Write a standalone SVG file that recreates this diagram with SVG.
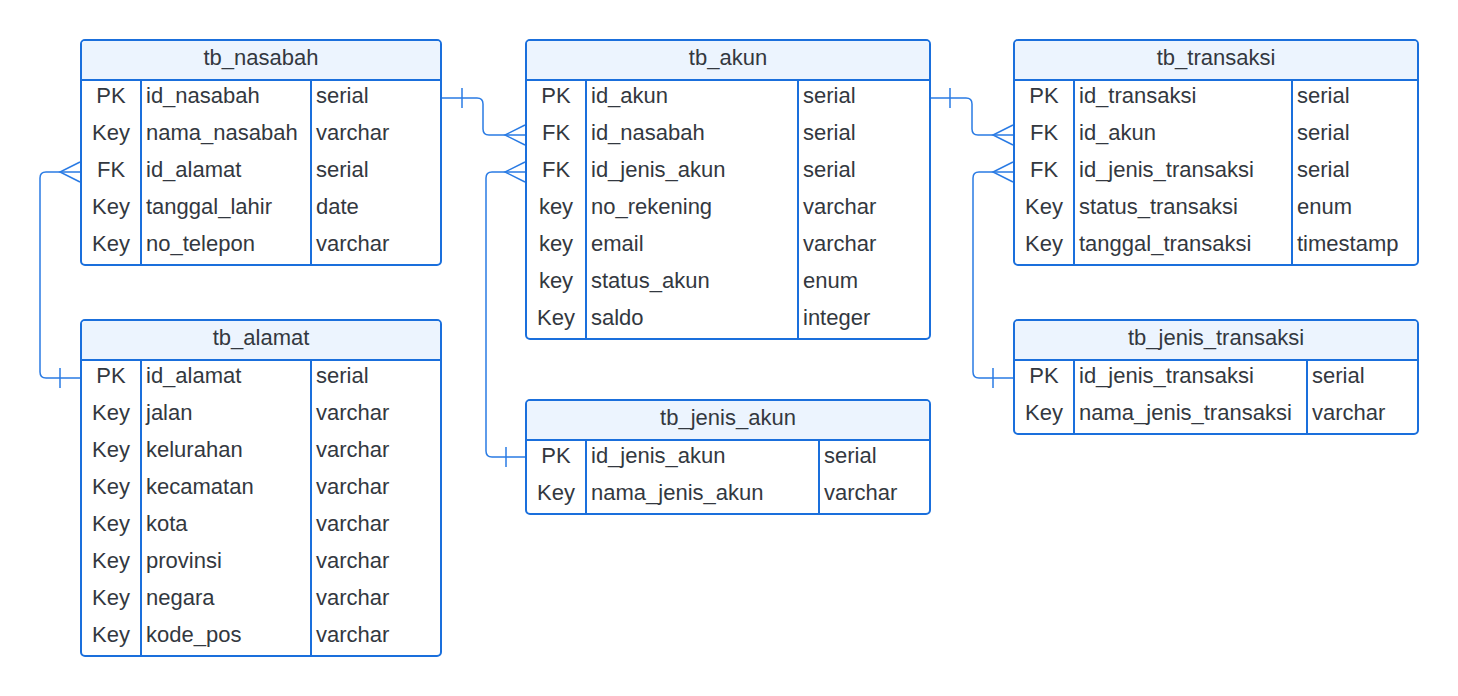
<svg xmlns="http://www.w3.org/2000/svg" width="1458" height="696" viewBox="0 0 1458 696">
<style>
.box{fill:#ffffff;stroke:#1a6fdc;stroke-width:2}
.hd{fill:#ecf4fe}
.ln{stroke:#1a6fdc;stroke-width:2;fill:none}
.t{font-family:"Liberation Sans",Arial,sans-serif;font-size:22px;fill:#333840}
.c{text-anchor:middle}
.con path{fill:none;stroke:#2a7be4;stroke-width:1.5}
</style>
<rect width="1458" height="696" fill="#ffffff"/>

<g id="tb_nasabah">
<rect class="box" x="81" y="40" width="360" height="225" rx="4"/>
<path class="hd" d="M82,79 V44 Q82,41 85,41 H437 Q440,41 440,44 V79 Z"/>
<line class="ln" x1="81" y1="80" x2="441" y2="80"/>
<line class="ln" x1="141" y1="80" x2="141" y2="265"/>
<line class="ln" x1="311" y1="80" x2="311" y2="265"/>
<text class="t c" x="261" y="65">tb_nasabah</text>
<text class="t c" x="111" y="103">PK</text><text class="t" x="146" y="103">id_nasabah</text><text class="t" x="316" y="103">serial</text>
<text class="t c" x="111" y="140">Key</text><text class="t" x="146" y="140">nama_nasabah</text><text class="t" x="316" y="140">varchar</text>
<text class="t c" x="111" y="177">FK</text><text class="t" x="146" y="177">id_alamat</text><text class="t" x="316" y="177">serial</text>
<text class="t c" x="111" y="214">Key</text><text class="t" x="146" y="214">tanggal_lahir</text><text class="t" x="316" y="214">date</text>
<text class="t c" x="111" y="251">Key</text><text class="t" x="146" y="251">no_telepon</text><text class="t" x="316" y="251">varchar</text>
</g>

<g id="tb_alamat">
<rect class="box" x="81" y="320" width="360" height="336" rx="4"/>
<path class="hd" d="M82,359 V324 Q82,321 85,321 H437 Q440,321 440,324 V359 Z"/>
<line class="ln" x1="81" y1="360" x2="441" y2="360"/>
<line class="ln" x1="141" y1="360" x2="141" y2="656"/>
<line class="ln" x1="311" y1="360" x2="311" y2="656"/>
<text class="t c" x="261" y="345">tb_alamat</text>
<text class="t c" x="111" y="383">PK</text><text class="t" x="146" y="383">id_alamat</text><text class="t" x="316" y="383">serial</text>
<text class="t c" x="111" y="420">Key</text><text class="t" x="146" y="420">jalan</text><text class="t" x="316" y="420">varchar</text>
<text class="t c" x="111" y="457">Key</text><text class="t" x="146" y="457">kelurahan</text><text class="t" x="316" y="457">varchar</text>
<text class="t c" x="111" y="494">Key</text><text class="t" x="146" y="494">kecamatan</text><text class="t" x="316" y="494">varchar</text>
<text class="t c" x="111" y="531">Key</text><text class="t" x="146" y="531">kota</text><text class="t" x="316" y="531">varchar</text>
<text class="t c" x="111" y="568">Key</text><text class="t" x="146" y="568">provinsi</text><text class="t" x="316" y="568">varchar</text>
<text class="t c" x="111" y="605">Key</text><text class="t" x="146" y="605">negara</text><text class="t" x="316" y="605">varchar</text>
<text class="t c" x="111" y="642">Key</text><text class="t" x="146" y="642">kode_pos</text><text class="t" x="316" y="642">varchar</text>
</g>

<g id="tb_akun">
<rect class="box" x="526" y="40" width="404" height="299" rx="4"/>
<path class="hd" d="M527,79 V44 Q527,41 530,41 H926 Q929,41 929,44 V79 Z"/>
<line class="ln" x1="526" y1="80" x2="930" y2="80"/>
<line class="ln" x1="586" y1="80" x2="586" y2="339"/>
<line class="ln" x1="798" y1="80" x2="798" y2="339"/>
<text class="t c" x="728" y="65">tb_akun</text>
<text class="t c" x="556" y="103">PK</text><text class="t" x="591" y="103">id_akun</text><text class="t" x="803" y="103">serial</text>
<text class="t c" x="556" y="140">FK</text><text class="t" x="591" y="140">id_nasabah</text><text class="t" x="803" y="140">serial</text>
<text class="t c" x="556" y="177">FK</text><text class="t" x="591" y="177">id_jenis_akun</text><text class="t" x="803" y="177">serial</text>
<text class="t c" x="556" y="214">key</text><text class="t" x="591" y="214">no_rekening</text><text class="t" x="803" y="214">varchar</text>
<text class="t c" x="556" y="251">key</text><text class="t" x="591" y="251">email</text><text class="t" x="803" y="251">varchar</text>
<text class="t c" x="556" y="288">key</text><text class="t" x="591" y="288">status_akun</text><text class="t" x="803" y="288">enum</text>
<text class="t c" x="556" y="325">Key</text><text class="t" x="591" y="325">saldo</text><text class="t" x="803" y="325">integer</text>
</g>

<g id="tb_jenis_akun">
<rect class="box" x="526" y="400" width="404" height="114" rx="4"/>
<path class="hd" d="M527,439 V404 Q527,401 530,401 H926 Q929,401 929,404 V439 Z"/>
<line class="ln" x1="526" y1="440" x2="930" y2="440"/>
<line class="ln" x1="586" y1="440" x2="586" y2="514"/>
<line class="ln" x1="819" y1="440" x2="819" y2="514"/>
<text class="t c" x="728" y="425">tb_jenis_akun</text>
<text class="t c" x="556" y="463">PK</text><text class="t" x="591" y="463">id_jenis_akun</text><text class="t" x="824" y="463">serial</text>
<text class="t c" x="556" y="500">Key</text><text class="t" x="591" y="500">nama_jenis_akun</text><text class="t" x="824" y="500">varchar</text>
</g>

<g id="tb_transaksi">
<rect class="box" x="1014" y="40" width="404" height="225" rx="4"/>
<path class="hd" d="M1015,79 V44 Q1015,41 1018,41 H1414 Q1417,41 1417,44 V79 Z"/>
<line class="ln" x1="1014" y1="80" x2="1418" y2="80"/>
<line class="ln" x1="1074" y1="80" x2="1074" y2="265"/>
<line class="ln" x1="1292" y1="80" x2="1292" y2="265"/>
<text class="t c" x="1216" y="65">tb_transaksi</text>
<text class="t c" x="1044" y="103">PK</text><text class="t" x="1079" y="103">id_transaksi</text><text class="t" x="1297" y="103">serial</text>
<text class="t c" x="1044" y="140">FK</text><text class="t" x="1079" y="140">id_akun</text><text class="t" x="1297" y="140">serial</text>
<text class="t c" x="1044" y="177">FK</text><text class="t" x="1079" y="177">id_jenis_transaksi</text><text class="t" x="1297" y="177">serial</text>
<text class="t c" x="1044" y="214">Key</text><text class="t" x="1079" y="214">status_transaksi</text><text class="t" x="1297" y="214">enum</text>
<text class="t c" x="1044" y="251">Key</text><text class="t" x="1079" y="251">tanggal_transaksi</text><text class="t" x="1297" y="251">timestamp</text>
</g>

<g id="tb_jenis_transaksi">
<rect class="box" x="1014" y="320" width="404" height="114" rx="4"/>
<path class="hd" d="M1015,359 V324 Q1015,321 1018,321 H1414 Q1417,321 1417,324 V359 Z"/>
<line class="ln" x1="1014" y1="360" x2="1418" y2="360"/>
<line class="ln" x1="1074" y1="360" x2="1074" y2="434"/>
<line class="ln" x1="1307" y1="360" x2="1307" y2="434"/>
<text class="t c" x="1216" y="345">tb_jenis_transaksi</text>
<text class="t c" x="1044" y="383">PK</text><text class="t" x="1079" y="383">id_jenis_transaksi</text><text class="t" x="1312" y="383">serial</text>
<text class="t c" x="1044" y="420">Key</text><text class="t" x="1079" y="420">nama_jenis_transaksi</text><text class="t" x="1312" y="420">varchar</text>
</g>

<g id="connectors" class="con">
<path d="M442,98 H477 Q483,98 483,104 V129 Q483,135 489,135 H525"/>
<path d="M462,88 V108"/>
<path d="M525,125 L505,135 L525,145"/>

<path d="M525,457 H492 Q486,457 486,451 V178 Q486,172 492,172 H525"/>
<path d="M506,447 V467"/>
<path d="M525,162 L505,172 L525,182"/>

<path d="M80,378 H46 Q40,378 40,372 V178 Q40,172 46,172 H80"/>
<path d="M60,368 V388"/>
<path d="M80,162 L60,172 L80,182"/>

<path d="M931,98 H966 Q972,98 972,104 V129 Q972,135 978,135 H1013"/>
<path d="M950,88 V108"/>
<path d="M1013,125 L993,135 L1013,145"/>

<path d="M1013,378 H979 Q973,378 973,372 V178 Q973,172 979,172 H1013"/>
<path d="M993,368 V388"/>
<path d="M1013,162 L993,172 L1013,182"/>
</g>
</svg>
